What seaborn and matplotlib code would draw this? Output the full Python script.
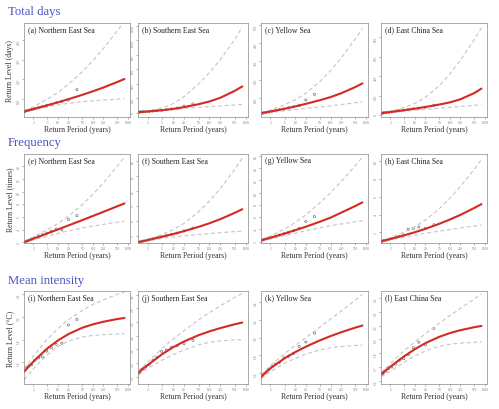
import pandas as pd
import seaborn as sns
import matplotlib.pyplot as plt

# return periods (years) of the fitted curves and of the empirical points
periods = [1.1, 2, 5, 10, 20, 50, 100, 200, 500, 800]
obs_periods = [1.12, 1.2, 1.3, 1.5, 1.8, 2.2, 2.8, 3.6, 4.8, 6.5, 9, 13, 20, 35]
x_ticks = [2, 5, 10, 20, 50, 100, 200, 500, 1000]

sections = ["Total days", "Frequency", "Mean intensity"]
ylabels = ["Return Level (days)", "Return Level (times)", "Return Level (°C)"]
regions = ["Northern East Sea", "Southern East Sea", "Yellow Sea", "East China Sea"]
letters = list("abcdefghijkl")

# ---- total days ----
fit_a = [38, 50, 69, 84, 100, 122, 140, 159, 187, 202]
up_a = [40, 62, 100, 134, 175, 239, 294, 356, 446, 494]
lo_a = [35, 45, 61, 71, 79, 87, 92, 96, 100, 103]
obs_a = [37, 40, 42, 45, 48, 53, 57, 62, 68, 74, 82, 88, 96, 148]

fit_b = [12, 21, 39, 57, 81, 121, 159, 210, 306, 366]
up_b = [12, 28, 68, 128, 227, 399, 555, 735, 1015, 1185]
lo_b = [10, 18, 34, 47, 61, 78, 89, 99, 111, 117]
obs_b = [12, 14, 15, 17, 19, 22, 27, 31, 37, 45, 55, 68, 95, 125]

fit_c = [16, 25, 40, 53, 67, 87, 104, 125, 159, 179]
up_c = [18, 34, 62, 89, 125, 189, 249, 318, 422, 480]
lo_c = [12, 20, 29, 36, 42, 50, 56, 63, 73, 79]
obs_c = [15, 17, 18, 21, 23, 27, 30, 35, 39, 45, 50, 57, 88, 119]

fit_d = [19, 31, 50, 66, 83, 108, 130, 162, 226, 272]
up_d = [22, 39, 77, 119, 182, 302, 422, 563, 775, 895]
lo_d = [16, 26, 40, 49, 58, 70, 79, 88, 100, 105]
obs_d = [18, 21, 23, 26, 29, 34, 39, 44, 50, 56, 64, 70, 80, 100]

# ---- frequency ----
fit_e = [2.05, 2.58, 3.40, 4.03, 4.66, 5.50, 6.15, 6.80, 7.68, 8.13]
up_e = [2.2, 2.88, 4.0, 4.96, 6.1, 7.94, 9.56, 11.36, 14.0, 15.44]
lo_e = [1.95, 2.37, 2.99, 3.42, 3.81, 4.27, 4.57, 4.84, 5.18, 5.34]
obs_e = [2.0, 2.1, 2.2, 2.35, 2.5, 2.7, 2.95, 3.2, 3.45, 3.75, 4.1, 3.95, 5.6, 6.2]

fit_f = [1.65, 2.09, 2.77, 3.31, 3.90, 4.76, 5.49, 6.33, 7.61, 8.33]
up_f = [1.75, 2.27, 3.23, 4.19, 5.48, 7.80, 9.99, 12.54, 16.42, 18.62]
lo_f = [1.55, 1.94, 2.42, 2.71, 2.95, 3.23, 3.42, 3.59, 3.81, 3.92]
obs_f = [1.6, 1.7, 1.78, 1.9, 2.0, 2.15, 2.35, 2.55, 2.75, 3.0, 3.25, 3.5, 3.95, 4.5]

fit_g = [2.24, 2.66, 3.34, 3.88, 4.45, 5.27, 5.93, 6.74, 7.82, 8.42]
up_g = [2.38, 2.95, 4.07, 5.12, 6.38, 8.34, 9.99, 11.79, 14.39, 15.79]
lo_g = [2.09, 2.43, 2.99, 3.40, 3.79, 4.27, 4.60, 4.90, 5.26, 5.42]
obs_g = [2.15, 2.3, 2.35, 2.45, 2.6, 2.75, 2.9, 3.1, 3.3, 3.55, 3.8, 4.2, 5.3, 6.1]

fit_h = [1.0, 1.25, 1.67, 2.01, 2.39, 2.96, 3.44, 3.96, 4.74, 5.17]
up_h = [1.05, 1.39, 2.03, 2.63, 3.38, 4.66, 5.83, 7.15, 9.11, 10.19]
lo_h = [0.95, 1.16, 1.46, 1.68, 1.88, 2.14, 2.32, 2.49, 2.71, 2.82]
obs_h = [0.98, 1.03, 1.06, 1.12, 1.2, 1.3, 1.4, 1.55, 1.7, 2.35, 2.45, 2.6, 2.45, 2.85]

# ---- mean intensity ----
fit_i = [1.52, 1.608, 1.724, 1.793, 1.85, 1.906, 1.936, 1.959, 1.983, 1.992]
up_i = [1.54, 1.657, 1.805, 1.898, 1.976, 2.06, 2.111, 2.153, 2.201, 2.221]
lo_i = [1.45, 1.544, 1.668, 1.74, 1.788, 1.824, 1.838, 1.845, 1.851, 1.853]
obs_i = [1.53, 1.55, 1.56, 1.57, 1.58, 1.62, 1.64, 1.65, 1.70, 1.73, 1.76, 1.77, 1.93, 1.98]

fit_j = [1.854, 1.968, 2.128, 2.23, 2.314, 2.406, 2.463, 2.511, 2.567, 2.592]
up_j = [1.867, 2.013, 2.213, 2.348, 2.474, 2.63, 2.738, 2.837, 2.961, 3.019]
lo_j = [1.827, 1.921, 2.041, 2.119, 2.188, 2.264, 2.303, 2.324, 2.338, 2.341]
obs_j = [1.84, 1.86, 1.9, 1.92, 1.95, 1.98, 2.04, 2.08, 2.17, 2.19, 2.23, 2.25, 2.28, 2.33]

fit_k = [1.558, 1.652, 1.764, 1.835, 1.896, 1.968, 2.016, 2.06, 2.112, 2.136]
up_k = [1.579, 1.683, 1.819, 1.909, 1.999, 2.119, 2.209, 2.299, 2.423, 2.489]
lo_k = [1.537, 1.615, 1.707, 1.764, 1.812, 1.86, 1.884, 1.899, 1.911, 1.915]
obs_k = [1.55, 1.57, 1.59, 1.61, 1.64, 1.67, 1.70, 1.72, 1.77, 1.79, 1.82, 1.9, 1.95, 2.05]

fit_l = [1.65, 1.702, 1.778, 1.829, 1.873, 1.919, 1.946, 1.967, 1.989, 1.998]
up_l = [1.657, 1.725, 1.819, 1.882, 1.942, 2.018, 2.072, 2.125, 2.195, 2.231]
lo_l = [1.63, 1.669, 1.735, 1.78, 1.816, 1.85, 1.865, 1.873, 1.879, 1.881]
obs_l = [1.645, 1.65, 1.66, 1.67, 1.69, 1.70, 1.72, 1.75, 1.76, 1.79, 1.84, 1.88, 1.86, 1.98]

fits = [fit_a, fit_b, fit_c, fit_d, fit_e, fit_f, fit_g, fit_h, fit_i, fit_j, fit_k, fit_l]
ups = [up_a, up_b, up_c, up_d, up_e, up_f, up_g, up_h, up_i, up_j, up_k, up_l]
los = [lo_a, lo_b, lo_c, lo_d, lo_e, lo_f, lo_g, lo_h, lo_i, lo_j, lo_k, lo_l]
obss = [obs_a, obs_b, obs_c, obs_d, obs_e, obs_f, obs_g, obs_h, obs_i, obs_j, obs_k, obs_l]

ylims = [(10, 485), (-55, 1240), (-5, 510), (-20, 945),
         (1.9, 15.9), (1.5, 19.5), (1.8, 16.3), (0.8, 10.8),
         (1.41, 2.23), (1.69, 3.055), (1.474, 2.527), (1.576, 2.252)]
yticks = [[100, 200, 300, 400], [0, 200, 400, 600, 800, 1000, 1200],
          [100, 200, 300, 400, 500], [0, 200, 400, 600, 800],
          [2, 4, 6, 8, 10, 12, 14], [3, 6, 9, 12, 15, 18],
          [2, 4, 6, 8, 10, 12, 14, 16], [2, 4, 6, 8, 10],
          [1.6, 1.8, 2.0, 2.2], [1.8, 2.0, 2.2, 2.4, 2.6, 2.8, 3.0],
          [1.6, 1.8, 2.0, 2.2, 2.4], [1.6, 1.7, 1.8, 1.9, 2.0, 2.1, 2.2]]

sns.set_style("ticks")
plt.rcParams['font.family'] = ['Liberation Serif', 'DejaVu Serif']

W, H = 499, 410
fig = plt.figure(figsize=(W / 100, H / 100), dpi=100)

cols_px = [(24, 130), (138, 248), (261, 368), (381, 487)]
rows_px = [(24, 118), (155, 244), (292, 385)]
title_y = [12, 143, 281]

for r, sec in enumerate(sections):
    fig.text(8 / W, 1 - title_y[r] / H, sec, fontsize=9.2, color='#4a54c4',
             ha='left', va='center')
    for c, reg in enumerate(regions):
        k = r * 4 + c
        x0, x1 = cols_px[c]
        y0, y1 = rows_px[r]
        ax = fig.add_axes([x0 / W, 1 - y1 / H, (x1 - x0) / W, (y1 - y0) / H])

        sns.lineplot(x=periods, y=ups[k], ax=ax, color='#c4c4c4', lw=0.8,
                     linestyle=(0, (3.5, 2.5)))
        sns.lineplot(x=periods, y=los[k], ax=ax, color='#c4c4c4', lw=0.8,
                     linestyle=(0, (3.5, 2.5)))
        sns.scatterplot(x=obs_periods, y=obss[k], ax=ax, marker='o', s=2.5,
                        facecolor='none', edgecolor='#555555', linewidth=0.4)
        sns.lineplot(x=periods, y=fits[k], ax=ax, color='#d42a24', lw=1.5)

        ax.set_xscale('log')
        ax.set_xlim(1.08, 1150)
        ax.set_ylim(*ylims[k])
        ax.set_xticks(x_ticks)
        ax.set_xticklabels([str(t) for t in x_ticks])
        ax.minorticks_off()
        ax.set_yticks(yticks[k])
        ax.tick_params(axis='both', labelsize=2.5, length=1.5, width=0.4,
                       colors='#777777', pad=1)
        ax.tick_params(axis='y', labelrotation=90)
        for s in ax.spines.values():
            s.set_color('#888888')
            s.set_linewidth(0.5)

        ax.text(0.04, 0.93, f"({letters[k]}) {reg}", transform=ax.transAxes,
                fontsize=5.6, ha='left', va='center', color='#222222')
        hp = y1 - y0
        ax.text(0.5, -12 / hp, "Return Period (years)", transform=ax.transAxes,
                fontsize=5.6, ha='center', va='center', color='#333333')
        if c == 0:
            ax.text((10 - x0) / (x1 - x0), 0.5, ylabels[r], transform=ax.transAxes,
                    fontsize=5.6, rotation=90, ha='center', va='center',
                    color='#333333')

fig.savefig("out.png", dpi=100)
